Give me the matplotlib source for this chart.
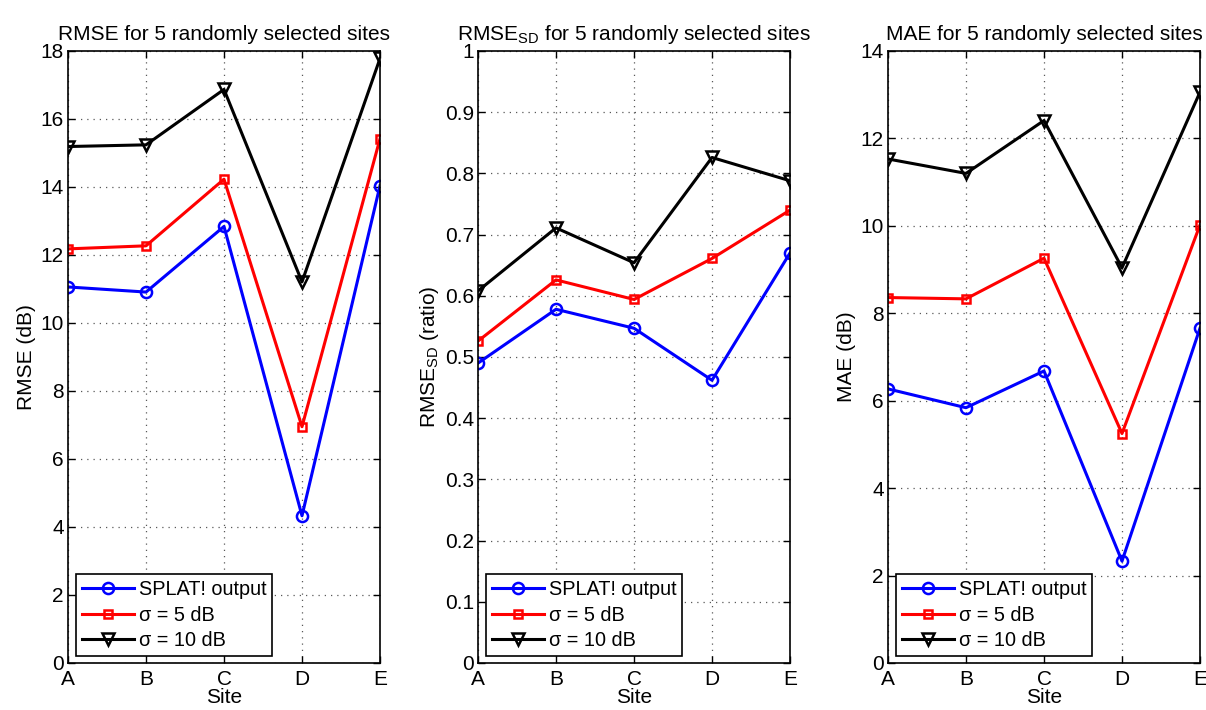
import matplotlib
matplotlib.use("Agg")
import matplotlib.pyplot as plt
import numpy as np

plt.rcParams['font.family'] = ['Liberation Sans', 'DejaVu Sans']
plt.rcParams['mathtext.fontset'] = 'custom'
plt.rcParams['mathtext.rm'] = 'Liberation Sans'

sites = ['A', 'B', 'C', 'D', 'E']
series_labels = ['SPLAT! output', 'σ = 5 dB', 'σ = 10 dB']

rmse_splat = [11.06, 10.91, 12.84, 4.33, 14.04]
rmse_sig5 = [12.18, 12.27, 14.23, 6.95, 15.42]
rmse_sig10 = [15.19, 15.24, 16.87, 11.21, 17.78]

rmsesd_splat = [0.490, 0.578, 0.547, 0.462, 0.670]
rmsesd_sig5 = [0.526, 0.626, 0.594, 0.661, 0.740]
rmsesd_sig10 = [0.608, 0.711, 0.654, 0.826, 0.788]

mae_splat = [6.27, 5.84, 6.68, 2.33, 7.66]
mae_sig5 = [8.36, 8.33, 9.26, 5.25, 10.02]
mae_sig10 = [11.53, 11.20, 12.41, 9.04, 13.06]

panels = [
    dict(data=[rmse_splat, rmse_sig5, rmse_sig10],
         title='RMSE for 5 randomly selected sites', ylabel='RMSE (dB)',
         yticks=np.arange(0, 19, 2), ylim=(0, 18)),
    dict(data=[rmsesd_splat, rmsesd_sig5, rmsesd_sig10],
         title=r'RMSE$_{\mathrm{SD}}$ for 5 randomly selected sites',
         ylabel=r'RMSE$_{\mathrm{SD}}$ (ratio)',
         yticks=np.round(np.arange(0, 1.01, 0.1), 1), ylim=(0, 1)),
    dict(data=[mae_splat, mae_sig5, mae_sig10],
         title='MAE for 5 randomly selected sites', ylabel='MAE (dB)',
         yticks=np.arange(0, 15, 2), ylim=(0, 14)),
]

styles = [
    dict(color='#0000ff', marker='o', markersize=8),
    dict(color='#ff0000', marker='s', markersize=5.5),
    dict(color='#000000', marker='v', markersize=8.5),
]

fig = plt.figure(figsize=(12.06, 7.10), dpi=100)
lefts = [68, 478, 888]
W, H = 1206, 710
x = np.arange(1, len(sites) + 1)
FS = 15

for left, p in zip(lefts, panels):
    ax = fig.add_axes([left / W, (H - 663) / H, 312 / W, 612 / H])
    for vals, lab, st in zip(p['data'], series_labels, styles):
        ax.plot(x, vals, color=st['color'], lw=2.2, marker=st['marker'],
                markersize=st['markersize'], markerfacecolor='none',
                markeredgecolor=st['color'], markeredgewidth=1.8, label=lab)
    ax.set_xlim(1, 5)
    ax.set_ylim(*p['ylim'])
    ax.set_xticks(x)
    ax.set_xticklabels(sites)
    ax.set_yticks(p['yticks'])
    ax.set_yticklabels(['{:g}'.format(v) for v in p['yticks']])
    ax.tick_params(direction='in', top=True, right=True, labelsize=FS,
                   length=5, width=1)
    ax.tick_params(axis='x', pad=5)
    ax.tick_params(axis='y', pad=3)
    ax.grid(True, color='0.35', linestyle=(0, (1, 4)), linewidth=0.9)
    for s in ax.spines.values():
        s.set_linewidth(1.2)
    ax.set_title(p['title'], fontsize=FS, pad=8)
    ax.set_ylabel(p['ylabel'], fontsize=FS, labelpad=3)
    ax.set_xlabel('Site', fontsize=FS, labelpad=-1)
    leg = ax.legend(loc='lower left', bbox_to_anchor=(0.026, 0.011),
                    borderaxespad=0, fancybox=False, edgecolor='black',
                    fontsize=14.3, handlelength=2.6, handletextpad=0.25,
                    labelspacing=0.33, borderpad=0.3, framealpha=1)
    leg.get_frame().set_linewidth(1.2)

fig.savefig('out.png', dpi=100)
